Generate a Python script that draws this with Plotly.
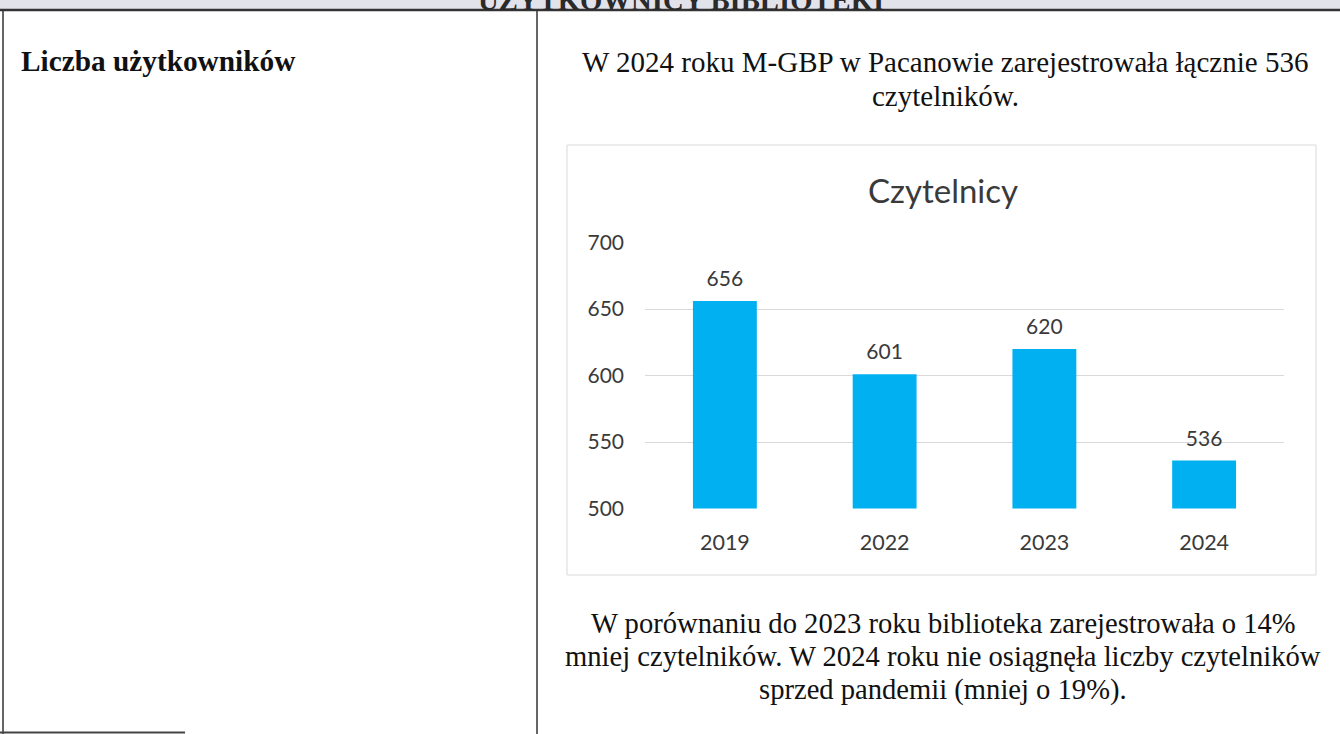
import plotly.graph_objects as go

# ---- data ----
years = ["2019", "2022", "2023", "2024"]
readers = [656, 601, 620, 536]
y_ticks = [500, 550, 600, 650, 700]

chart_title = "Czytelnicy"
header_text = "UŻYTKOWNICY BIBLIOTEKI"
row_label = "Liczba użytkowników"
top_lines = ["W 2024 roku M-GBP w Pacanowie zarejestrowała łącznie 536",
             "czytelników."]
bottom_lines = ["W porównaniu do 2023 roku biblioteka zarejestrowała o 14%",
                "mniej czytelników. W 2024 roku nie osiągnęła liczby czytelników",
                "sprzed pandemii (mniej o 19%)."]

W, H = 1340, 734
def px(x): return x / W
def py(y): return 1 - y / H

SERIF = "Liberation Serif, Times New Roman, serif"
SANS = "Lato, Carlito, Calibri, sans-serif"

fig = go.Figure()
fig.add_trace(go.Bar(x=years, y=readers, marker=dict(color="#00b0f0", line=dict(width=0)),
                     hoverinfo="x+y", showlegend=False))
# data labels (text placed above an invisible marker to get Excel-like spacing)
fig.add_trace(go.Scatter(x=years, y=readers, mode="markers+text",
                         text=[str(v) for v in readers], textposition="top center",
                         marker=dict(size=14, color="rgba(0,0,0,0)"),
                         textfont=dict(family=SANS, size=21, color="#3a3a3a"),
                         hoverinfo="skip", showlegend=False, cliponaxis=False))

annotations = []
# chart title
annotations.append(dict(x=px(943), y=py(190), xref="paper", yref="paper", text=chart_title,
                        showarrow=False, xanchor="center", yanchor="middle",
                        font=dict(family=SANS, size=33, color="#3a3a3a")))

# header (cut off at page top, as in the scan)
annotations.append(dict(x=px(681), y=py(17.5), xref="paper", yref="paper",
                        text="<b>" + header_text + "</b>", showarrow=False,
                        xanchor="center", yanchor="bottom", borderpad=0,
                        font=dict(family=SERIF, size=28.7, color="#2a2a2a")))

# left row label
annotations.append(dict(x=px(19), y=py(61), xref="paper", yref="paper",
                        text="<b>" + row_label + "</b>", showarrow=False,
                        xanchor="left", yanchor="middle",
                        font=dict(family=SERIF, size=29.3, color="#111111")))

for i, t in enumerate(top_lines):
    annotations.append(dict(x=px(945), y=py(62 + 34 * i), xref="paper", yref="paper",
                            text=t, showarrow=False, xanchor="center", yanchor="middle",
                            font=dict(family=SERIF, size=29, color="#111111")))
for i, t in enumerate(bottom_lines):
    annotations.append(dict(x=px(943), y=py(623 + 33.5 * i), xref="paper", yref="paper",
                            text=t, showarrow=False, xanchor="center", yanchor="middle",
                            font=dict(family=SERIF, size=28.6, color="#111111")))

shapes = [
    # header band
    dict(type="rect", xref="paper", yref="paper", x0=0, x1=1, y0=py(9), y1=1,
         fillcolor="#e2e2ea", line=dict(width=0), layer="below"),
    dict(type="line", xref="paper", yref="paper", x0=0, x1=1, y0=py(10), y1=py(10),
         line=dict(color="#333333", width=2.5)),
    # table borders
    dict(type="line", xref="paper", yref="paper", x0=px(3), x1=px(3), y0=py(10), y1=0,
         line=dict(color="#333333", width=1.5)),
    dict(type="line", xref="paper", yref="paper", x0=px(537), x1=px(537), y0=py(10), y1=0,
         line=dict(color="#333333", width=1.5)),
    dict(type="line", xref="paper", yref="paper", x0=0, x1=px(185), y0=py(732.5), y1=py(732.5),
         line=dict(color="#444444", width=2)),
    # chart area border
    dict(type="rect", xref="paper", yref="paper", x0=px(567), x1=px(1316), y0=py(575), y1=py(145),
         line=dict(color="#d9d9d9", width=1), fillcolor="rgba(0,0,0,0)", layer="below"),
]

fig.update_layout(
    width=W, height=H, autosize=False,
    margin=dict(l=0, r=0, t=0, b=0, pad=0, autoexpand=False),
    paper_bgcolor="white", plot_bgcolor="white",
    bargap=0.6,
    xaxis=dict(type="category", domain=[px(645), px(1284)], showgrid=False, zeroline=False,
               showline=False, ticks="", ticklabelstandoff=19,
               tickfont=dict(family=SANS, size=21.5, color="#3a3a3a")),
    yaxis=dict(domain=[py(508.5), py(242.5)], range=[500, 700], tickvals=y_ticks,
               showgrid=True, gridcolor="#d9d9d9", gridwidth=1, zeroline=False,
               showline=False, ticks="", ticklabelstandoff=20,
               tickfont=dict(family=SANS, size=21, color="#3a3a3a")),
    annotations=annotations,
    shapes=shapes,
)

fig.write_html("out.html", config={"displayModeBar": False},
               post_script="document.body.style.margin='0';document.body.style.overflow='hidden';")
